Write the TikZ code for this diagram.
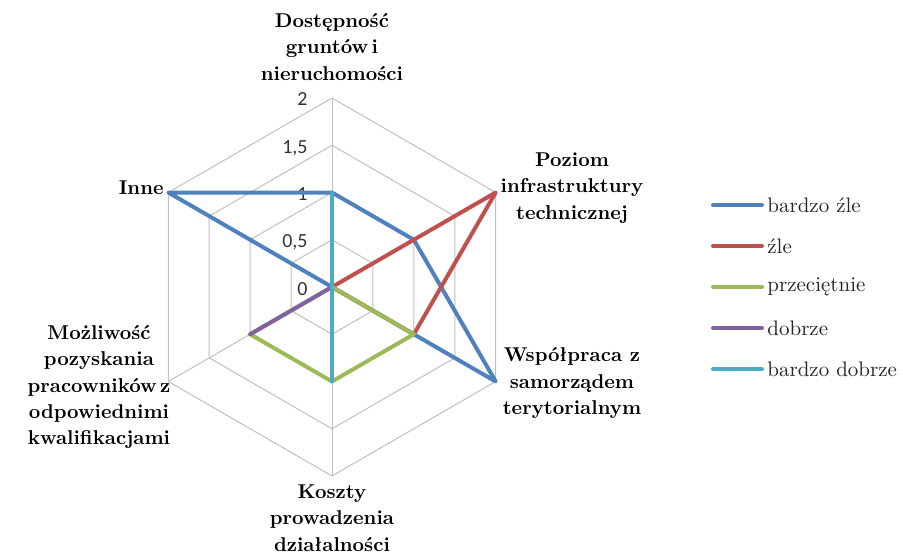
\documentclass[tikz,border=0pt]{standalone}
\usepackage{fontspec}
\newfontfamily\numfont{Carlito}
\usetikzlibrary{calc}
\definecolor{cBlue}{HTML}{4F81BD}
\definecolor{cRed}{HTML}{C0504D}
\definecolor{cGreen}{HTML}{9BBB59}
\definecolor{cPurple}{HTML}{8064A2}
\definecolor{cCyan}{HTML}{4BACC6}
\tikzset{
    gridline/.style={draw=black!25, line width=0.5pt},
    ser/.style={line width=2pt, line join=round, line cap=round},
    cat/.style={font=\bfseries\fontsize{10}{13.2}\selectfont, align=center, inner sep=0pt},
    val/.style={font=\numfont\fontsize{10}{12}\selectfont, text=black!80, anchor=base east, inner sep=0pt},
    leg/.style={font=\fontsize{10.5}{12}\selectfont, anchor=west, inner sep=0pt, text=black!85}
}
\begin{document}
\begin{tikzpicture}[x=0.5pt,y=0.5pt]
        \useasboundingbox (-332,-270) rectangle (571,287);
        % siatka
        \foreach \r in {47.25,94.5,141.75,189}
            \draw[gridline] (90:\r) -- (30:\r) -- (-30:\r) -- (-90:\r) -- (-150:\r) -- (150:\r) -- cycle;
        \foreach \a [count=\i] in {90,30,-30,-90,-150,150}{
            \draw[gridline] (0,0) -- (\a:189);
            \coordinate (ax\i) at (\a:189);}
        \foreach \v/\t [count=\i] in {0/0,0.5/{0,5},1/1,1.5/{1,5},2/2}
            \node[val] (val\i) at (-24,\v*94.5-8) {\t};
        % serie
        \draw[ser,cBlue] (90:94.5) -- (30:94.5) -- (ax3) -- (0,0) -- (ax6) -- cycle;
        \draw[ser,cRed] (0,0) -- (ax2) -- (-30:94.5) -- cycle;
        \draw[ser,cGreen] (0,0) -- (-30:94.5) -- (-90:94.5) -- (-150:94.5) -- cycle;
        \draw[ser,cPurple] (0,0) -- (-150:94.5);
        \draw[ser,cCyan] (90:94.5) -- (-90:94.5);
        % opisy osi
        \node[cat] (dost) at (0,240) {Dostępność\\gruntów\,i\\nieruchomości};
        \node[cat] (infra) at (240,99) {Poziom\\infrastruktury\\technicznej};
        \node[cat] (wsp) at (240,-96) {Współpraca z\\samorządem\\terytorialnym};
        \node[cat] (koszt) at (0,-231) {Koszty\\prowadzenia\\działalności};
        \node[cat] (mozl) at (-233,-100) {Możliwość\\pozyskania\\pracowników\,z\\odpowiednimi\\kwalifikacjami};
        \node[cat,anchor=east] (inne) at (-168,99) {Inne};
        % legenda
        \foreach \c/\t [count=\i] in {cBlue/bardzo źle,cRed/źle,cGreen/przeciętnie,cPurple/dobrze,cCyan/bardzo dobrze}{
            \draw[ser,\c] (381,123-41*\i) -- ++(49,0);
            \node[leg] (leg\i) at (435,123-41*\i) {\t};}
\end{tikzpicture}
\end{document}
